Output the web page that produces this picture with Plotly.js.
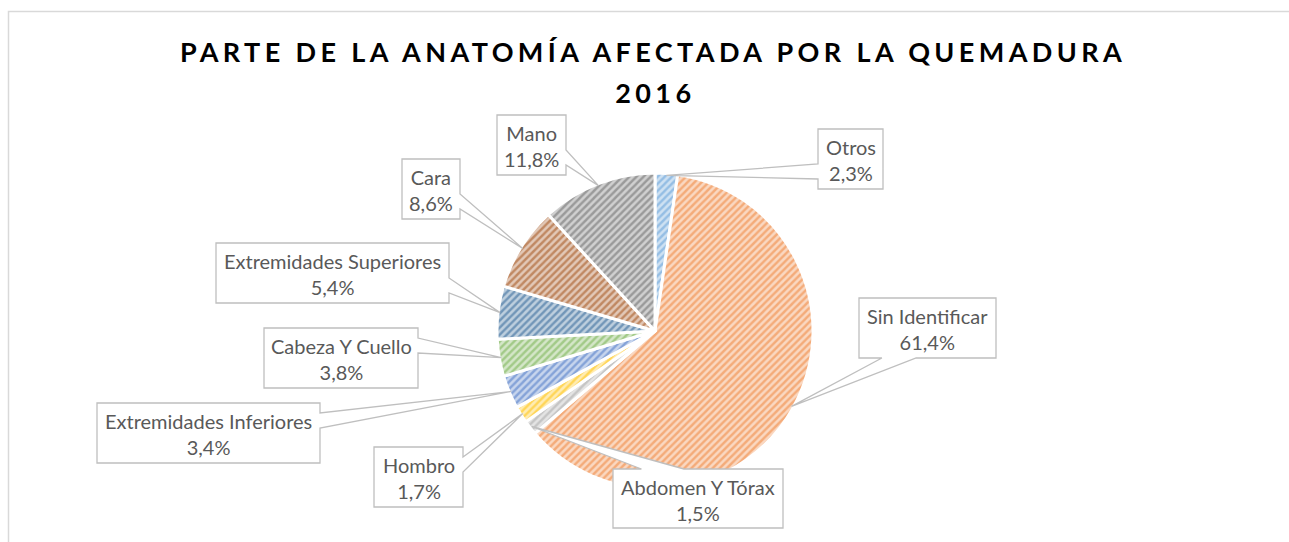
<!DOCTYPE html>
<html>
<head>
<meta charset="utf-8">
<script src="https://cdn.plot.ly/plotly-3.0.1.min.js"></script>
<style>
  html, body { margin: 0; padding: 0; background: #fff; }
  #chart { width: 1289px; height: 542px; }
  .gtitle { letter-spacing: 4.4px; }
  .annotation[data-index="9"] text { letter-spacing: 4.4px; }
</style>
</head>
<body>
<div id="chart"></div>
<script>
// ---- data ----
const categories = ["Otros", "Sin Identificar", "Abdomen Y Tórax", "Hombro",
  "Extremidades Inferiores", "Cabeza Y Cuello", "Extremidades Superiores", "Cara", "Mano"];
const percentages = [2.3, 61.4, 1.5, 1.7, 3.4, 3.8, 5.4, 8.6, 11.8];
const titleLine1 = "PARTE DE LA ANATOMÍA AFECTADA POR LA QUEMADURA";
const titleLine2 = "2016";

// ---- style / layout ----
const sliceColors = ["#5B9BD5", "#ED7D31", "#A5A5A5", "#FFC000", "#4472C4",
  "#70AD47", "#255E91", "#9E480E", "#636363"];
// callout boxes [left, top, right, bottom] in pixels
const calloutBoxes = [
  [818, 129, 883, 189],
  [859, 298, 996, 358],
  [613, 469, 783, 528],
  [374, 447, 463, 507],
  [97, 403, 320, 463],
  [264, 328, 418, 388],
  [216, 243, 449, 303],
  [402, 159, 460, 219],
  [497, 115, 566, 175]
];
const W = 1289, H = 542;
const CX = 655, CY = 331, R = 158;

function tint(hex, f) {
  const n = parseInt(hex.slice(1), 16);
  const r = (n >> 16) & 255, g = (n >> 8) & 255, b = n & 255;
  const m = c => Math.round(c + (255 - c) * f);
  return "rgb(" + m(r) + "," + m(g) + "," + m(b) + ")";
}
const px = x => x / W;
const py = y => 1 - y / H;
const fmt = v => v.toFixed(1).replace(".", ",") + "%";

const trace = {
  type: "pie",
  labels: categories,
  values: percentages,
  sort: false,
  direction: "clockwise",
  rotation: 0,
  textinfo: "none",
  hoverinfo: "label+percent",
  showlegend: false,
  domain: { x: [px(CX - R), px(CX + R)], y: [py(CY + R), py(CY - R)] },
  marker: {
    colors: sliceColors.map(c => tint(c, 0.7)),
    line: { color: "#ffffff", width: 3 },
    pattern: {
      shape: "/",
      fgcolor: sliceColors,
      bgcolor: sliceColors.map(c => tint(c, 0.7)),
      size: 5,
      solidity: 0.48,
      fillmode: "overlay"
    }
  }
};

// callouts: box + wedge pointing at slice mid-angle on the rim
const total = percentages.reduce((a, b) => a + b, 0);
let cum = 0;
const shapes = [];
const annotations = [];
percentages.forEach((v, i) => {
  const midFrac = (cum + v / 2) / total;
  cum += v;
  const ang = midFrac * 2 * Math.PI;
  const tx = CX + (R - 2) * Math.sin(ang);
  const ty = CY - (R - 2) * Math.cos(ang);
  const [x0, y0, x1, y1] = calloutBoxes[i];
  const cx = (x0 + x1) / 2, cy = (y0 + y1) / 2;
  const w = x1 - x0, h = y1 - y0;
  const dxn = (tx - cx) / (w / 2), dyn = (ty - cy) / (h / 2);
  let side;
  if (Math.abs(dxn) >= Math.abs(dyn)) side = dxn > 0 ? "right" : "left";
  else side = dyn > 0 ? "bottom" : "top";
  let f1, f2;
  if (side === "top" || side === "bottom") {
    [f1, f2] = tx < cx ? [0.167, 0.417] : [0.583, 0.833];
  } else {
    [f1, f2] = ty < cy ? [0.167, 0.417] : [0.583, 0.833];
  }
  const P = (x, y) => px(x).toFixed(5) + "," + py(y).toFixed(5);
  const T = P(tx, ty);
  let d = "M" + P(x0, y0);
  if (side === "top") d += " L" + P(x0 + f1 * w, y0) + " L" + T + " L" + P(x0 + f2 * w, y0);
  d += " L" + P(x1, y0);
  if (side === "right") d += " L" + P(x1, y0 + f1 * h) + " L" + T + " L" + P(x1, y0 + f2 * h);
  d += " L" + P(x1, y1);
  if (side === "bottom") d += " L" + P(x0 + f2 * w, y1) + " L" + T + " L" + P(x0 + f1 * w, y1);
  d += " L" + P(x0, y1);
  if (side === "left") d += " L" + P(x0, y0 + f2 * h) + " L" + T + " L" + P(x0, y0 + f1 * h);
  d += " Z";
  shapes.push({
    type: "path", xref: "paper", yref: "paper", path: d, layer: "above",
    fillcolor: "#ffffff", line: { color: "#BFBFBF", width: 1.3 }
  });
  annotations.push({
    xref: "paper", yref: "paper", x: px(cx), y: py(cy + 1),
    xanchor: "center", yanchor: "middle", showarrow: false,
    text: categories[i] + "<br>" + fmt(v),
    font: { family: "Lato, 'DejaVu Sans', sans-serif", size: 20, color: "#595959" }
  });
});

// chart area border
shapes.unshift({
  type: "rect", xref: "paper", yref: "paper", layer: "below",
  x0: px(8.5), x1: px(W + 5), y0: py(H + 5), y1: py(11.5),
  line: { color: "#D9D9D9", width: 1.5 }, fillcolor: "rgba(0,0,0,0)"
});

annotations.push({
  xref: "paper", yref: "paper", x: px(CX), y: py(92), xanchor: "center", yanchor: "middle",
  showarrow: false, text: titleLine2,
  font: { family: "Lato, 'Open Sans', sans-serif", size: 27, color: "#000000", weight: 700 }
});

const layout = {
  width: W, height: H,
  margin: { l: 0, r: 0, t: 0, b: 0 },
  paper_bgcolor: "#ffffff",
  title: {
    text: titleLine1,
    x: px(653), xanchor: "center",
    y: py(53), yanchor: "middle", yref: "container",
    font: { family: "Lato, 'Open Sans', sans-serif", size: 27, color: "#000000", weight: 700 }
  },
  shapes: shapes,
  annotations: annotations
};

Plotly.newPlot("chart", [trace], layout, { displayModeBar: false, staticPlot: true });
</script>
</body>
</html>
